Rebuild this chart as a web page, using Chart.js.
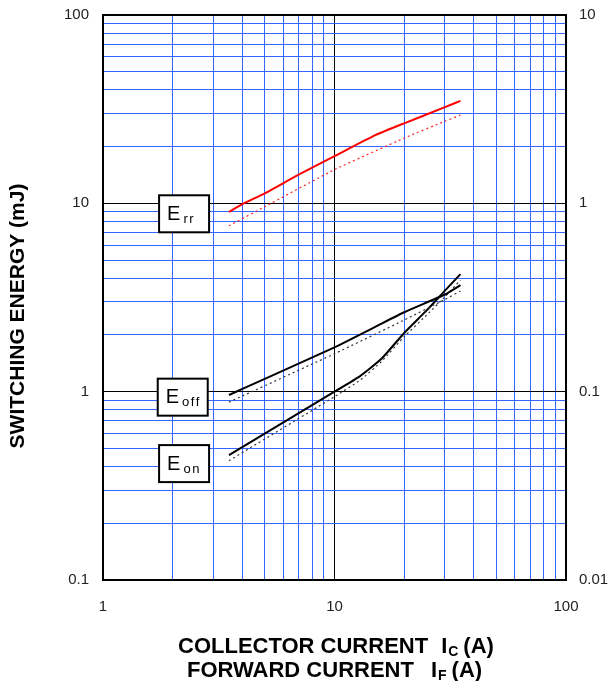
<!DOCTYPE html>
<html>
<head>
<meta charset="utf-8">
<script src="https://cdn.jsdelivr.net/npm/chart.js@4"></script>
<style>
    body { margin: 0; background: #fff; }
    #chart { display: block; }
</style>
</head>
<body>
<canvas id="chart" width="610" height="681"></canvas>
<script>
const fontFamily = "'Liberation Sans', Arial, sans-serif"
const blue = "#3366ff"

// grid positions and labelled ticks
const xGridValues = [1, 2, 3, 4, 5, 6, 7, 8, 9, 10, 20, 30, 40, 50, 60, 70, 80, 90, 100]
const yGridValues = [0.1, 0.2, 0.3, 0.4, 0.5, 0.6, 0.7, 0.8, 0.9, 1, 2, 3, 4, 5, 6, 7, 8, 9, 10, 20, 30, 40, 50, 60, 70, 80, 90, 100]
const xTickLabels = [1, 10, 100]
const yTickLabels = [0.1, 1, 10, 100]
const y2TickLabels = [0.01, 0.1, 1, 10]
const blackLinesX = [10]
const blackLinesY = [1, 10]

// current (A)
const errX = [3.5, 4, 5, 7, 10, 15, 20, 30, 35]
const errY = [9.0, 9.9, 11.3, 14.2, 17.8, 23.0, 26.6, 32.4, 35.0]
const errDotX = [3.5, 5, 10, 20, 30, 35]
const errDotY = [7.6, 9.6, 15.1, 22.2, 27.3, 29.4]

const eoffX = [3.5, 5, 10, 15, 20, 30, 35]
const eoffY = [0.96, 1.17, 1.72, 2.21, 2.64, 3.28, 3.68]
const eoffDotX = [3.5, 10, 20, 30, 35]
const eoffDotY = [0.88, 1.59, 2.4, 3.09, 3.42]

const eonX = [3.5, 10, 12.9, 16, 20, 25, 30, 35]
const eonY = [0.46, 1.0, 1.21, 1.5, 2.05, 2.7, 3.44, 4.21]
const eonDotX = [3.5, 10, 13, 16, 20, 25, 30, 35]
const eonDotY = [0.43, 0.94, 1.16, 1.45, 1.96, 2.55, 3.19, 3.91]

// curve name boxes: [main, subscript, x, y] in data units
const curveLabels = [
    ["E", "rr", 2.24, 8.8],
    ["E", "off", 2.21, 0.935],
    ["E", "on", 2.24, 0.415]
]

function toPoints(xs, ys) {
    return xs.map((x, i) => ({ x, y: ys[i] }))
}

function solid(xs, ys, color) {
    return {
        data: toPoints(xs, ys),
        borderColor: color,
        borderWidth: 2,
        pointRadius: 0,
        tension: 0.15,
        fill: false
    }
}

function dotted(xs, ys, color) {
    return {
        data: toPoints(xs, ys),
        borderColor: color,
        borderWidth: 1.2,
        borderDash: [2, 3],
        pointRadius: 0,
        tension: 0.15,
        fill: false
    }
}

function setTicks(values) {
    return (scale) => {
        scale.ticks = values.map((value) => ({ value }))
    }
}

function fitVertical(width) {
    return (scale) => {
        scale.width = width
        scale.paddingTop = 0
        scale.paddingBottom = 0
    }
}

const overlay = {
    id: "overlay",
    afterDatasetsDraw(chart) {
        const { ctx, chartArea: a, scales } = chart
        ctx.save()

        // frame
        ctx.strokeStyle = "#000"
        ctx.lineWidth = 2
        ctx.strokeRect(a.left, a.top, a.right - a.left, a.bottom - a.top)

        // curve labels
        curveLabels.forEach(([main, sub, xv, yv]) => {
            const cx = scales.x.getPixelForValue(xv)
            const cy = scales.y.getPixelForValue(yv)
            const w = 50
            const h = 37
            ctx.fillStyle = "#fff"
            ctx.fillRect(cx - w / 2, cy - h / 2, w, h)
            ctx.lineWidth = 2
            ctx.strokeStyle = "#000"
            ctx.strokeRect(cx - w / 2, cy - h / 2, w, h)
            ctx.fillStyle = "#000"
            ctx.textAlign = "left"
            ctx.textBaseline = "alphabetic"
            ctx.font = `20px ${fontFamily}`
            ctx.fillText(main, cx - w / 2 + 8, cy + 6)
            const ew = ctx.measureText(main).width
            ctx.font = `13px ${fontFamily}`
            ctx.letterSpacing = "1.5px"
            ctx.fillText(sub, cx - w / 2 + 11 + ew, cy + 9)
            ctx.letterSpacing = "0px"
        })

        // y title
        ctx.fillStyle = "#000"
        ctx.font = `bold 21px ${fontFamily}`
        ctx.translate(18, 316)
        ctx.rotate(-Math.PI / 2)
        ctx.textAlign = "center"
        ctx.textBaseline = "middle"
        ctx.fillText("SWITCHING ENERGY (mJ)", 0, 0)
        ctx.restore()

        // x title, two lines with subscripts
        ctx.save()
        ctx.fillStyle = "#000"
        ctx.textBaseline = "alphabetic"
        ctx.textAlign = "left"
        const lines = [
            ["COLLECTOR CURRENT", "C", a.left + 75, a.bottom + 73, 13],
            ["FORWARD CURRENT", "F", a.left + 84, a.bottom + 97, 17]
        ]
        lines.forEach(([text, sub, startX, base, gap]) => {
            let x = startX
            ctx.font = `bold 22px ${fontFamily}`
            ctx.fillText(text, x, base)
            x += ctx.measureText(text).width + gap
            ctx.fillText("I", x, base)
            x += ctx.measureText("I").width + 1
            ctx.font = `bold 14px ${fontFamily}`
            ctx.fillText(sub, x, base + 3)
            x += ctx.measureText(sub).width + 5
            ctx.font = `bold 22px ${fontFamily}`
            ctx.fillText("(A)", x, base)
        })
        ctx.restore()
    }
}

const tickFont = { family: fontFamily, size: 15 }

new Chart(document.getElementById("chart"), {
    type: "line",
    data: {
        datasets: [
            solid(errX, errY, "#ff0000"),
            dotted(errDotX, errDotY, "#ff2020"),
            solid(eoffX, eoffY, "#000"),
            dotted(eoffDotX, eoffDotY, "#333"),
            solid(eonX, eonY, "#000"),
            dotted(eonDotX, eonDotY, "#333")
        ]
    },
    options: {
        responsive: false,
        animation: false,
        layout: { padding: { top: 15, left: 0, right: 0, bottom: 0 } },
        plugins: {
            legend: { display: false },
            tooltip: { enabled: false }
        },
        scales: {
            x: {
                type: "logarithmic",
                min: 1,
                max: 100,
                afterBuildTicks: setTicks(xGridValues),
                afterFit: (scale) => { scale.height = 101 },
                border: { display: false },
                grid: {
                    drawTicks: false,
                    lineWidth: 1,
                    color: (c) => blackLinesX.includes(c.tick && c.tick.value) ? "#000" : blue
                },
                ticks: {
                    autoSkip: false,
                    maxRotation: 0,
                    padding: 18,
                    color: "#222",
                    font: tickFont,
                    callback: (value) => xTickLabels.includes(value) ? String(value) : ""
                }
            },
            y: {
                type: "logarithmic",
                position: "left",
                min: 0.1,
                max: 100,
                afterBuildTicks: setTicks(yGridValues),
                afterFit: fitVertical(103),
                border: { display: false },
                grid: {
                    drawTicks: false,
                    lineWidth: 1,
                    color: (c) => blackLinesY.includes(c.tick && c.tick.value) ? "#000" : blue
                },
                ticks: {
                    autoSkip: false,
                    padding: 14,
                    color: "#222",
                    font: tickFont,
                    callback: (value) => yTickLabels.includes(value) ? String(value) : ""
                }
            },
            y2: {
                type: "logarithmic",
                position: "right",
                min: 0.01,
                max: 10,
                afterBuildTicks: setTicks(y2TickLabels),
                afterFit: fitVertical(44),
                border: { display: false },
                grid: { display: false, drawTicks: false },
                ticks: {
                    autoSkip: false,
                    padding: 13,
                    color: "#222",
                    font: tickFont,
                    callback: (value) => String(value)
                }
            }
        }
    },
    plugins: [overlay]
})
</script>
</body>
</html>
